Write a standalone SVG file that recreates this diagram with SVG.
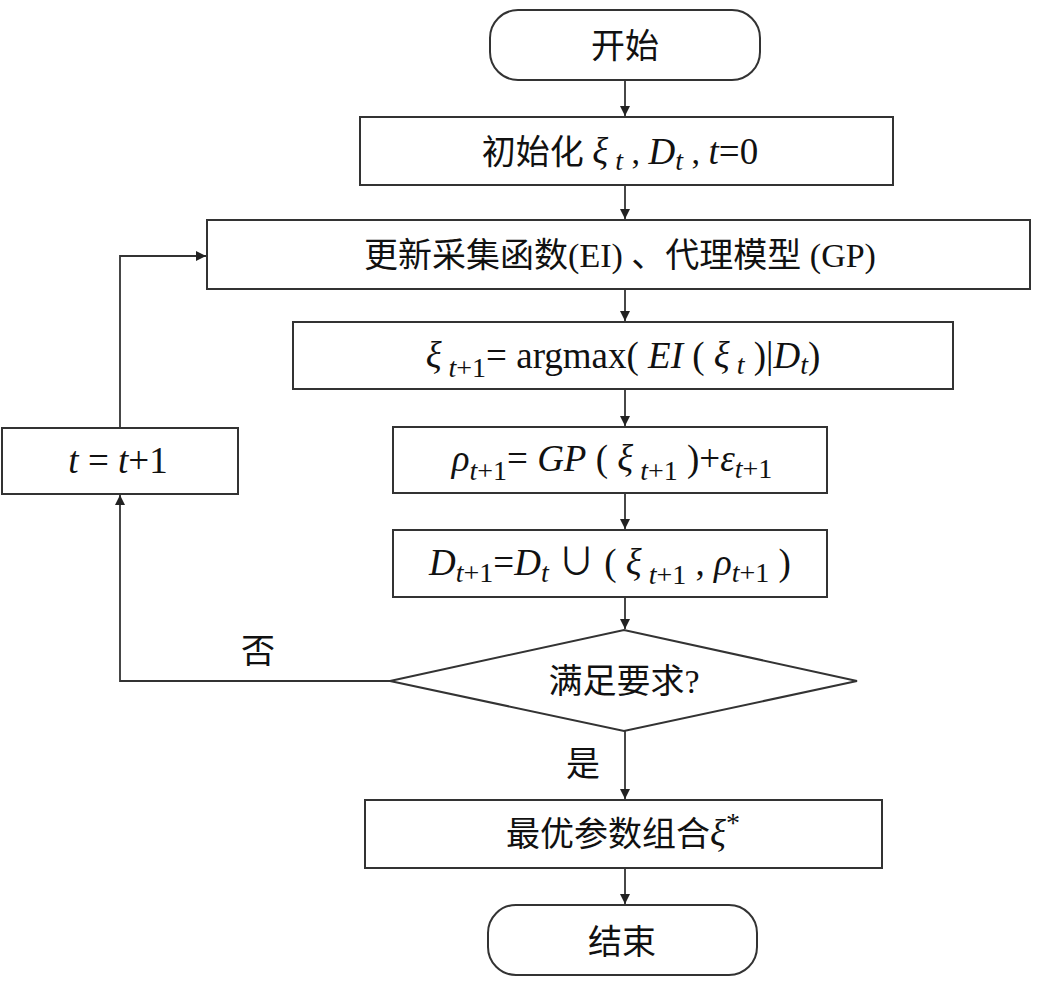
<svg xmlns="http://www.w3.org/2000/svg" width="1042" height="986" viewBox="0 0 1042 986">
<defs>
<marker id="ah" viewBox="0 0 10 10" refX="10" refY="5" markerWidth="10" markerHeight="10" markerUnits="userSpaceOnUse" orient="auto">
<path d="M0,0 L10,5 L0,10 z" fill="#222"/>
</marker>
<style>
.box{fill:#fff;stroke:#333;stroke-width:2}
.t{font-family:"Liberation Serif","Noto Sans CJK SC",serif;font-size:34px;fill:#111;text-anchor:middle}
.m{font-size:37px}
.i{font-style:italic}
.s{font-size:28px}
.c{stroke:#333;stroke-width:1.8;fill:none;marker-end:url(#ah)}
</style>
</defs>
<rect width="1042" height="986" fill="#fff"/>
<g id="connectors">
<path class="c" d="M625,80 V116"/>
<path class="c" d="M625,185 V219"/>
<path class="c" d="M625,289 V321"/>
<path class="c" d="M625,389 V426"/>
<path class="c" d="M625,493 V529"/>
<path class="c" d="M625,597 V629"/>
<path class="c" d="M625,730 V799"/>
<path class="c" d="M625,868 V904"/>
<path class="c" d="M390,681 H120 V495"/>
<path class="c" d="M120,428 V256 H206"/>
<text class="t" x="258" y="663">否</text>
<text class="t" x="583" y="776">是</text>
</g>
<g id="start">
<rect class="box" x="490" y="10" width="270" height="70" rx="28"/>
<text class="t" x="625" y="58">开始</text>
</g>
<g id="init">
<rect class="box" x="360" y="117" width="533" height="68"/>
<text class="t" x="620" y="164">初始化 <tspan class="i m">ξ</tspan><tspan class="s i" dy="6"> t</tspan><tspan dy="-6"> , </tspan><tspan class="i m">D</tspan><tspan class="s i" dy="6">t</tspan><tspan dy="-6"> , </tspan><tspan class="i m">t</tspan><tspan class="m">=0</tspan></text>
</g>
<g id="update">
<rect class="box" x="207" y="220" width="823" height="69"/>
<text class="t" x="620" y="267">更新采集函数(EI) 、代理模型 (GP)</text>
</g>
<g id="argmax">
<rect class="box" x="293" y="322" width="660" height="67"/>
<text class="t m" x="623" y="368"><tspan class="i">ξ</tspan><tspan class="s i" dy="9"> t</tspan><tspan class="s">+1</tspan><tspan dy="-9">= argmax( </tspan><tspan class="i">EI</tspan> ( <tspan class="i">ξ</tspan><tspan class="s i" dy="6"> t</tspan><tspan dy="-6"> )|</tspan><tspan class="i">D</tspan><tspan class="s i" dy="6">t</tspan><tspan dy="-6">)</tspan></text>
</g>
<g id="gp">
<rect class="box" x="393" y="427" width="434" height="66"/>
<text class="t m" x="612" y="471"><tspan class="i">ρ</tspan><tspan class="s i" dy="9">t</tspan><tspan class="s">+1</tspan><tspan dy="-9">= </tspan><tspan class="i">GP</tspan> ( <tspan class="i">ξ</tspan><tspan class="s i" dy="9"> t</tspan><tspan class="s">+1</tspan><tspan dy="-9"> )+</tspan><tspan class="i">ε</tspan><tspan class="s i" dy="7">t</tspan><tspan class="s">+1</tspan></text>
</g>
<g id="update-d">
<rect class="box" x="393" y="530" width="434" height="67"/>
<text class="t m" x="610" y="575"><tspan class="i">D</tspan><tspan class="s i" dy="7">t</tspan><tspan class="s">+1</tspan><tspan dy="-7">=</tspan><tspan class="i">D</tspan><tspan class="s i" dy="7">t</tspan><tspan dy="-7"> ∪ ( </tspan><tspan class="i">ξ</tspan><tspan class="s i" dy="9"> t</tspan><tspan class="s">+1</tspan><tspan dy="-9"> , </tspan><tspan class="i">ρ</tspan><tspan class="s i" dy="7">t</tspan><tspan class="s">+1</tspan><tspan dy="-7"> )</tspan></text>
</g>
<g id="decision">
<polygon class="box" points="390,681 624,630 857,681 624,731"/>
<text class="t" x="624" y="693">满足要求?</text>
</g>
<g id="increment">
<rect class="box" x="2" y="428" width="236" height="66"/>
<text class="t m" x="118" y="473"><tspan class="i">t</tspan> = <tspan class="i">t</tspan>+1</text>
</g>
<g id="optimal">
<rect class="box" x="365" y="800" width="517" height="68"/>
<text class="t" x="623" y="846">最优参数组合<tspan class="i m">ξ</tspan><tspan class="s" dy="-14">*</tspan></text>
</g>
<g id="end">
<rect class="box" x="488" y="905" width="269" height="70" rx="28"/>
<text class="t" x="622" y="954">结束</text>
</g>
</svg>
